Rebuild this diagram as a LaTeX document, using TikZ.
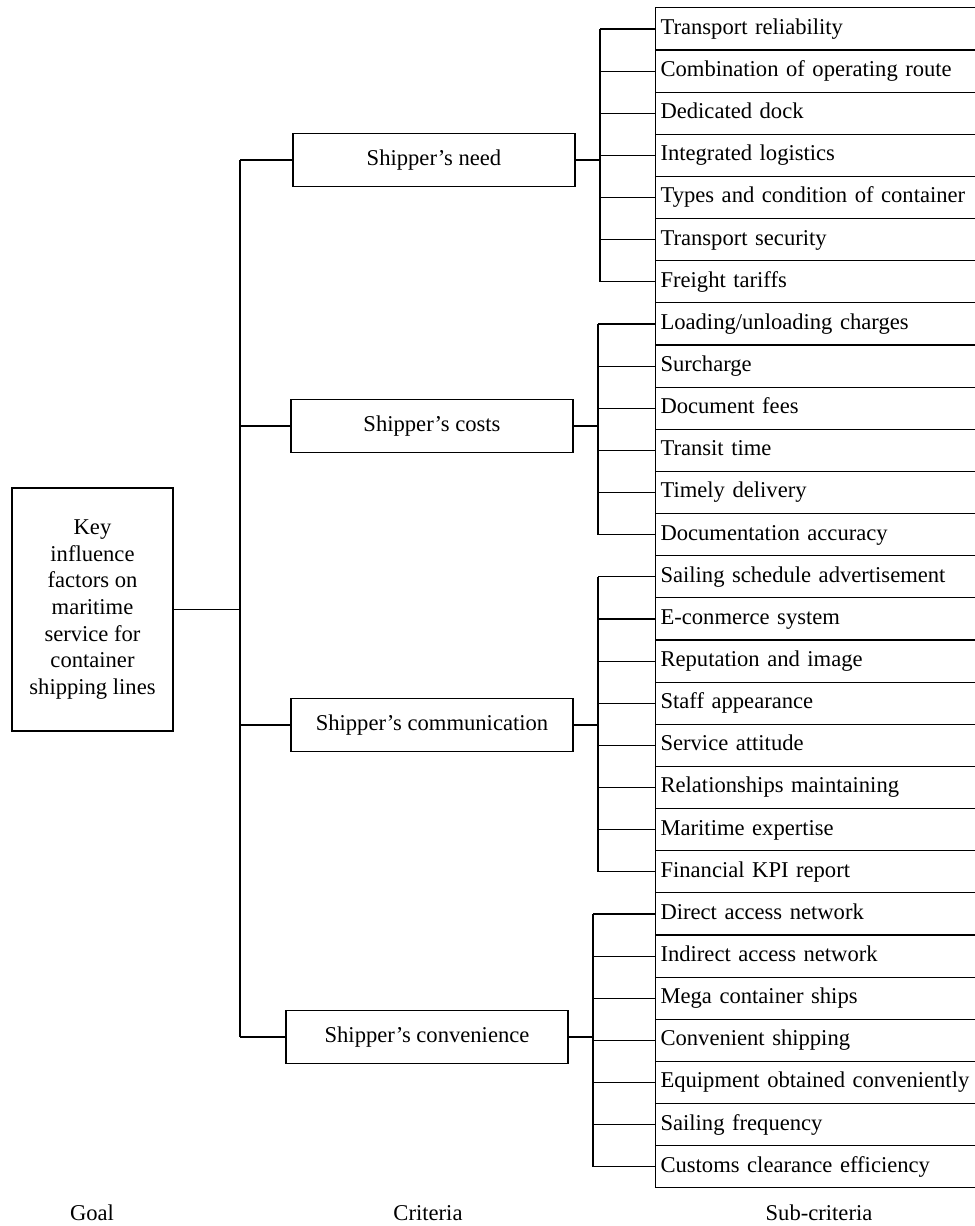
\documentclass[tikz,border=0pt]{standalone}
\usepackage{fontspec}
\setmainfont{Liberation Serif}

\begin{document}
\begin{tikzpicture}[x=0.4425pt,y=-0.4425pt,line width=0.5pt,
  font=\fontsize{10}{11.8}\selectfont,
  goalbox/.style={draw,align=center,minimum width=71.2pt,minimum height=107.5pt},
  crit/.style={draw,minimum width=124.8pt,minimum height=23.5pt,
    text height=7pt,text depth=2.2pt},
  sub/.style={draw,anchor=west,text width=150pt,align=left,inner xsep=2.2pt,
    minimum height=18.65pt,text height=7pt,text depth=2.2pt}]
\useasboundingbox (0,0) rectangle (974,1226);
\node[goalbox] (goal) at (92.5,609.5) {Key\\influence\\factors on\\maritime\\service for\\container\\shipping lines};
\node[crit] (need) at (434,160) {Shipper’s need};
\node[crit] (costs) at (432,426) {Shipper’s costs};
\node[crit] (comm) at (432,725) {Shipper’s communication};
\node[crit] (conv) at (427,1037) {Shipper’s convenience};
\foreach \t [count=\i] in {Transport reliability,Combination of operating route,
  Dedicated dock,Integrated logistics,Types and condition of container,
  Transport security,Freight tariffs,Loading/unloading charges,Surcharge,
  Document fees,Transit time,Timely delivery,Documentation accuracy,
  Sailing schedule advertisement,E-conmerce system,Reputation and image,
  Staff appearance,Service attitude,Relationships maintaining,Maritime expertise,
  Financial KPI report,Direct access network,Indirect access network,
  Mega container ships,Convenient shipping,Equipment obtained conveniently,
  Sailing frequency,Customs clearance efficiency}
  \node[sub] (s\i) at (655,{29+42.14*(\i-1)}) {\t};
% goal to criteria
\coordinate (trunk) at (240,0);
\draw (goal.east) -- (goal.east -| trunk);
\draw (need.west -| trunk) -- (conv.west -| trunk);
\foreach \c in {need,costs,comm,conv}
  \draw (\c.west) -- (\c.west -| trunk);
% criteria to sub-criteria
\foreach \c/\x/\a/\b in {need/600/1/7,costs/598/8/13,comm/598/14/21,conv/593/22/28}{
  \coordinate (bar) at (\x,0);
  \draw (\c.east) -- (\c.east -| bar);
  \draw (s\a.west -| bar) -- (s\b.west -| bar);
  \foreach \k in {\a,...,\b}
    \draw (s\k.west) -- (s\k.west -| bar);
}
\node (goallbl) at (92,1213) {Goal};
\node (critlbl) at (428,1213) {Criteria};
\node (sublbl) at (819,1213) {Sub-criteria};
\end{tikzpicture}
\end{document}
